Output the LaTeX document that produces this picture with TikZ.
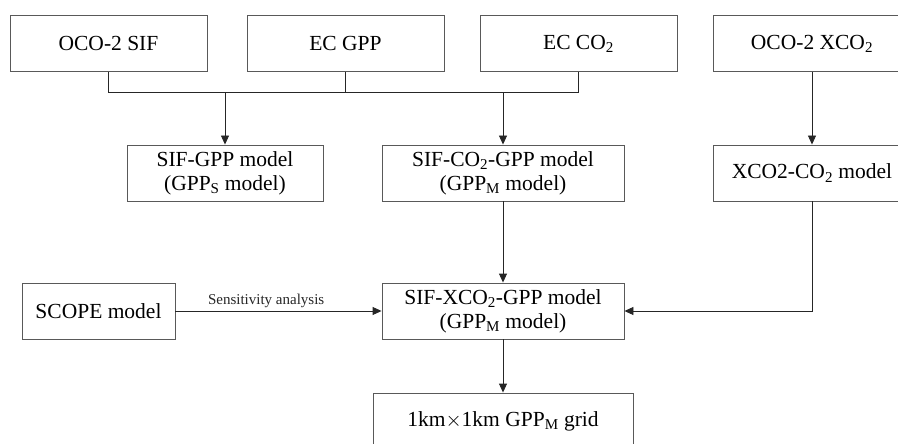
\documentclass[tikz,border=0pt]{standalone}
\usepackage{fontspec}
\setmainfont{Liberation Serif}
\usetikzlibrary{arrows.meta}

\tikzset{
  box/.style={draw=black!65, line width=0.9pt, minimum height=56pt, align=center,
    inner sep=2pt, font=\fontsize{21.5}{24}\selectfont},
  link/.style={line width=0.9pt, black!85},
  flow/.style={link, -{Triangle[length=9pt,width=8pt]}}
}

\begin{document}
\begin{tikzpicture}[x=1pt, y=-1pt]
    \useasboundingbox (0,0) rectangle (898,444);
    \clip (0,0) rectangle (898,444);

    % Data sources
    \node[box, minimum width=197pt] (sif)   at (108.5,43.5) {OCO-2 SIF};
    \node[box, minimum width=197pt] (ecgpp) at (345.5,43.5) {EC GPP};
    \node[box, minimum width=197pt] (ecco)  at (578.5,43.5) {EC CO\textsubscript{2}};
    \node[box, minimum width=198pt] (xco)   at (812,43.5)   {OCO-2 XCO\textsubscript{2}};

    % Models
    \node[box, minimum width=196pt] (sifgpp)  at (225,173) {SIF-GPP model\\(GPP\textsubscript{S} model)};
    \node[box, minimum width=242pt] (sifco)   at (503,173) {SIF-CO\textsubscript{2}-GPP model\\(GPP\textsubscript{M} model)};
    \node[box, minimum width=198pt] (xcoco)   at (812,173) {XCO2-CO\textsubscript{2} model};
    \node[box, minimum width=153pt] (scope)   at (98.5,311) {SCOPE model};
    \node[box, minimum width=242pt] (sifxco)  at (503,311) {SIF-XCO\textsubscript{2}-GPP model\\(GPP\textsubscript{M} model)};
    \node[box, minimum width=260pt] (grid)    at (503,421) {1km$\times$1km GPP\textsubscript{M} grid};

    % Collecting line under the EC and SIF boxes
    \draw[link] (sif.south) -- ++(0,21) coordinate (bus) -| (ecco.south);
    \draw[link] (ecgpp.south) -- (ecgpp.south |- bus);
    \draw[flow] (sifgpp.north |- bus) -- (sifgpp.north);
    \draw[flow] (sifco.north |- bus) -- (sifco.north);

    % Right branch
    \draw[flow] (xco.south) -- (xcoco.north);
    \draw[flow] (xcoco.south) |- (sifxco.east);

    % Middle branch
    \draw[flow] (sifco.south) -- (sifxco.north);
    \draw[flow] (scope.east) -- node[pos=0.44, above, inner sep=3pt, font=\fontsize{15}{18}\selectfont] (sens) {Sensitivity analysis} (sifxco.west);
    \draw[flow] (sifxco.south) -- (grid.north);
\end{tikzpicture}
\end{document}
